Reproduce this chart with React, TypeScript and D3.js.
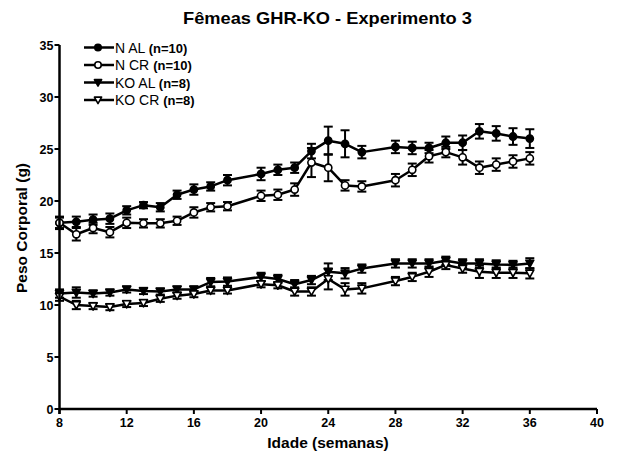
import React from 'react';
import * as d3 from 'd3';

// weeks of age
const weeks = [8, 9, 10, 11, 12, 13, 14, 15, 16, 17, 18, 20, 21, 22, 23, 24, 25, 26, 28, 29, 30, 31, 32, 33, 34, 35, 36];

// mean body weight (g)
const nAL = [17.9, 18.0, 18.2, 18.3, 19.1, 19.6, 19.4, 20.6, 21.1, 21.4, 22.0, 22.6, 23.0, 23.2, 24.8, 25.8, 25.5, 24.7, 25.2, 25.1, 25.1, 25.6, 25.6, 26.7, 26.5, 26.2, 26.0];
const nCR = [17.9, 16.8, 17.4, 17.0, 17.9, 17.85, 17.85, 18.1, 18.9, 19.4, 19.5, 20.5, 20.6, 21.1, 23.7, 23.2, 21.5, 21.4, 22.0, 23.0, 24.3, 24.7, 24.2, 23.2, 23.5, 23.8, 24.1];
const koAL = [11.1, 11.2, 11.1, 11.2, 11.5, 11.35, 11.3, 11.5, 11.5, 12.2, 12.25, 12.7, 12.5, 12.0, 12.4, 13.2, 13.05, 13.5, 14.0, 14.0, 14.0, 14.25, 14.0, 14.0, 13.9, 13.85, 14.0];
const koCR = [10.8, 10.0, 9.9, 9.8, 10.1, 10.2, 10.6, 10.9, 11.05, 11.4, 11.4, 12.0, 11.9, 11.3, 11.3, 12.5, 11.5, 11.6, 12.3, 12.7, 13.2, 13.85, 13.5, 13.2, 13.1, 13.1, 13.05];

// standard errors
const nALErr = [0.5, 0.5, 0.5, 0.5, 0.4, 0.3, 0.4, 0.4, 0.5, 0.4, 0.5, 0.6, 0.5, 0.5, 0.7, 1.35, 1.3, 0.6, 0.6, 0.6, 0.5, 0.6, 0.7, 0.7, 0.7, 0.8, 0.9];
const nCRErr = [0.6, 0.6, 0.5, 0.5, 0.5, 0.4, 0.4, 0.4, 0.5, 0.4, 0.4, 0.5, 0.5, 0.6, 1.4, 1.3, 0.5, 0.5, 0.6, 0.6, 0.6, 0.5, 0.7, 0.6, 0.6, 0.6, 0.6];
const koALErr = [0.4, 0.5, 0.3, 0.3, 0.3, 0.3, 0.3, 0.3, 0.3, 0.4, 0.4, 0.4, 0.4, 0.4, 0.4, 0.8, 0.5, 0.4, 0.4, 0.4, 0.4, 0.4, 0.4, 0.4, 0.4, 0.4, 0.5];
const koCRErr = [0.4, 0.4, 0.3, 0.3, 0.3, 0.3, 0.3, 0.3, 0.3, 0.3, 0.3, 0.3, 0.3, 0.4, 0.4, 1.0, 0.6, 0.5, 0.4, 0.4, 0.5, 0.4, 0.4, 0.6, 0.5, 0.5, 0.5];

const seriesNames = ['N AL', 'N CR', 'KO AL', 'KO CR'];
const seriesN = ['(n=10)', '(n=10)', '(n=8)', '(n=8)'];
const xTicks = [8, 12, 16, 20, 24, 28, 32, 36, 40];
const yTicks = [0, 5, 10, 15, 20, 25, 30, 35];

const W = 619;
const H = 459;

const x = d3.scaleLinear().domain([8, 40]).range([59.5, 597]);
const y = d3.scaleLinear().domain([0, 35]).range([409, 45]);

const font = 'Arial, "Liberation Sans", Helvetica, sans-serif';

type Kind = 'circle' | 'tri';

const Marker = ({ cx, cy, kind, filled, k = 1 }: { cx: number; cy: number; kind: Kind; filled: boolean; k?: number }) => {
  const fill = filled ? '#000' : '#fff';
  if (kind === 'circle') {
    return <circle cx={cx} cy={cy} r={3.6 * k} fill={fill} stroke="#000" strokeWidth={1.6} />;
  }
  const s = 4 * k;
  return (
    <path
      d={`M${cx - s},${cy - s * 0.8}L${cx + s},${cy - s * 0.8}L${cx},${cy + s}Z`}
      fill={fill}
      stroke="#000"
      strokeWidth={1.6}
      strokeLinejoin="round"
    />
  );
};

const App = () => {
  const series = [
    { vals: nAL, err: nALErr, kind: 'circle' as Kind, filled: true },
    { vals: nCR, err: nCRErr, kind: 'circle' as Kind, filled: false },
    { vals: koAL, err: koALErr, kind: 'tri' as Kind, filled: true },
    { vals: koCR, err: koCRErr, kind: 'tri' as Kind, filled: false },
  ];

  const line = d3.line<number>()
    .x((_, i) => x(weeks[i]))
    .y(d => y(d));

  return (
    <svg width={W} height={H} style={{ position: 'absolute', left: 0, top: 0, background: '#fff' }} fontFamily={font}>
      <rect width={W} height={H} fill="#fff" />
      <text x={327.5} y={24} textAnchor="middle" fontSize={17} fontWeight="bold" textLength={289} lengthAdjust="spacingAndGlyphs">Fêmeas GHR-KO - Experimento 3</text>

      {/* error bars */}
      {series.map((s, si) => (
        <g key={'e' + si} stroke="#000" strokeWidth={2}>
          {s.vals.map((v, i) => {
            const cx = x(weeks[i]);
            const y1 = y(v + s.err[i]);
            const y2 = y(v - s.err[i]);
            return (
              <g key={i}>
                <line x1={cx} x2={cx} y1={y1} y2={y2} />
                <line x1={cx - 4.5} x2={cx + 4.5} y1={y1} y2={y1} />
                <line x1={cx - 4.5} x2={cx + 4.5} y1={y2} y2={y2} />
              </g>
            );
          })}
        </g>
      ))}

      {/* lines */}
      {series.map((s, si) => (
        <path key={'l' + si} d={line(s.vals) || ''} fill="none" stroke="#000" strokeWidth={2.5} strokeLinejoin="round" />
      ))}

      {/* markers */}
      {series.map((s, si) => (
        <g key={'m' + si}>
          {s.vals.map((v, i) => (
            <Marker key={i} cx={x(weeks[i])} cy={y(v)} kind={s.kind} filled={s.filled} />
          ))}
        </g>
      ))}

      {/* y axis */}
      <g>
        <line x1={x(8)} x2={x(8)} y1={y(35)} y2={y(0) + 5} stroke="#000" strokeWidth={2.5} />
        {yTicks.map(t => (
          <g key={t}>
            <line x1={x(8) - 5} x2={x(8)} y1={y(t)} y2={y(t)} stroke="#000" strokeWidth={2} />
            <text x={x(8) - 6} y={y(t)} dy="0.36em" textAnchor="end" fontSize={12.5} fontWeight="bold">{t}</text>
          </g>
        ))}
      </g>

      {/* x axis */}
      <g>
        <line x1={x(8)} x2={x(40)} y1={y(0)} y2={y(0)} stroke="#000" strokeWidth={2.5} />
        {xTicks.map(t => (
          <g key={t}>
            <line x1={x(t)} x2={x(t)} y1={y(0)} y2={y(0) + 5} stroke="#000" strokeWidth={2} />
            <text x={x(t)} y={y(0) + 18} textAnchor="middle" fontSize={12.5} fontWeight="bold">{t}</text>
          </g>
        ))}
      </g>

      <text x={328} y={448} textAnchor="middle" fontSize={15.5} fontWeight="bold">Idade (semanas)</text>
      <text transform="translate(27,228) rotate(-90)" textAnchor="middle" fontSize={15.5} fontWeight="bold">Peso Corporal (g)</text>

      {/* legend */}
      {series.map((s, si) => {
        const ly = 47.5 + si * 17.5;
        return (
          <g key={'lg' + si}>
            <line x1={84} x2={114} y1={ly} y2={ly} stroke="#000" strokeWidth={2.5} />
            <Marker cx={98} cy={ly} kind={s.kind} filled={s.filled} k={0.9} />
            <text x={115} y={ly} dy="0.36em" fontSize={14}>
              {seriesNames[si]} <tspan fontWeight="bold" fontSize={13}>{seriesN[si]}</tspan>
            </text>
          </g>
        );
      })}
    </svg>
  );
};

export default App;
